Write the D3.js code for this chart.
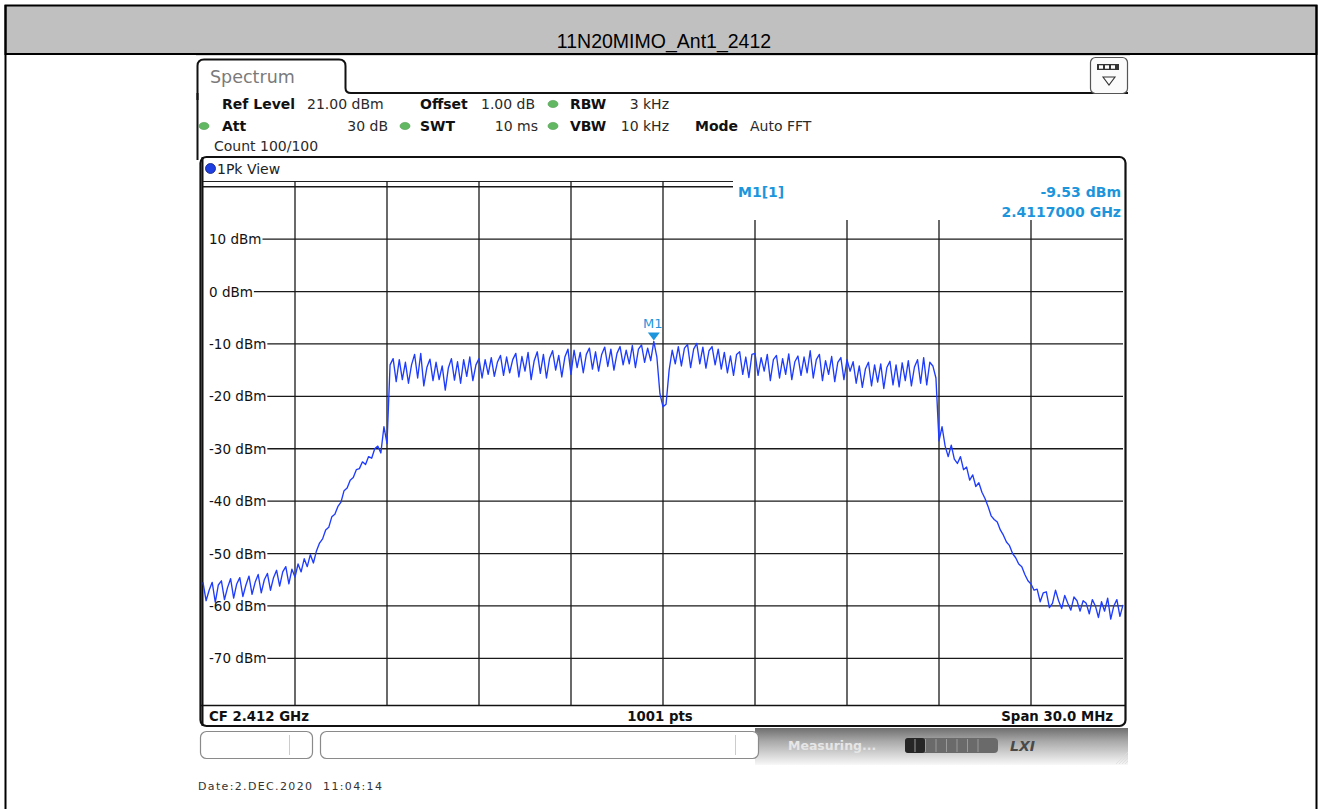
<!DOCTYPE html>
<html>
<head>
<meta charset="utf-8">
<script src="https://cdn.jsdelivr.net/npm/d3@7"></script>
<style>
  html, body { margin: 0; padding: 0; background: #fff; }
  svg { display: block; }
  text { font-family: "DejaVu Sans", sans-serif; }
</style>
</head>
<body>
<svg id="chart" width="1322" height="809"></svg>
<script>
// ---------------- data ----------------
const title = "11N20MIMO_Ant1_2412";
const startGHz = 2.397;          // CF 2.412 GHz, span 30 MHz
const stopGHz = 2.427;
const stepMHz = 0.1;             // trace sample spacing (301 samples)
const refLevel = 21;
const bottomLevel = -79;

// trace values in dBm (index i -> startGHz + i*0.1 MHz)
const traceDbm = [
  -55.5,-59.0,-57.0,-55.5,-59.3,-56.0,-55.2,-58.8,-56.5,-54.8,
  -58.5,-55.8,-54.6,-58.2,-56.0,-54.3,-57.8,-55.5,-54.0,-57.5,
  -55.0,-53.8,-57.0,-54.6,-53.2,-56.2,-53.5,-52.5,-55.8,-53.0,
  -54.5,-52.0,-53.5,-51.0,-52.5,-50.2,-51.8,-49.5,-48.0,-47.2,
  -45.5,-45.0,-43.0,-42.5,-41.0,-40.2,-38.0,-37.5,-36.0,-35.5,
  -34.0,-33.8,-32.5,-33.0,-31.5,-31.8,-30.0,-29.5,-30.8,-25.8,
  -29.0,-14.0,-12.8,-17.2,-13.0,-16.8,-13.5,-17.5,-14.0,-12.0,
  -16.5,-11.8,-18.0,-14.5,-12.9,-17.0,-13.5,-16.8,-14.2,-18.8,
  -14.6,-12.8,-16.9,-13.4,-17.5,-13.0,-16.2,-12.5,-17.0,-14.0,
  -12.8,-16.5,-13.0,-15.8,-12.6,-16.2,-13.5,-12.2,-16.0,-12.5,
  -15.5,-13.0,-11.8,-16.3,-12.4,-15.2,-11.6,-16.8,-13.2,-11.5,
  -15.6,-12.0,-16.5,-12.8,-11.3,-15.0,-12.2,-16.3,-12.5,-11.0,
  -15.8,-11.2,-14.5,-11.6,-15.5,-12.0,-10.8,-14.8,-11.5,-15.2,
  -12.0,-10.6,-14.3,-11.0,-15.0,-11.8,-10.5,-14.0,-11.2,-13.8,
  -10.3,-14.5,-11.0,-10.2,-13.5,-10.8,-13.2,-9.53,-12.5,-19.5,
  -22.0,-21.5,-15.0,-11.2,-13.8,-10.5,-14.2,-10.8,-10.1,-14.5,
  -11.0,-9.9,-13.8,-10.6,-14.6,-11.3,-10.5,-14.0,-11.0,-14.8,
  -11.6,-15.5,-12.3,-16.0,-12.0,-11.5,-15.8,-12.5,-16.4,-12.0,
  -11.8,-16.0,-12.6,-15.2,-12.0,-17.0,-13.0,-12.2,-16.5,-12.8,
  -15.8,-11.9,-16.8,-13.4,-12.3,-16.0,-12.5,-15.5,-11.3,-16.5,
  -13.0,-12.0,-17.0,-13.2,-15.8,-12.4,-17.2,-13.5,-12.6,-16.8,
  -13.0,-15.2,-13.4,-17.5,-14.2,-18.3,-14.8,-13.5,-18.0,-14.0,
  -17.3,-13.8,-18.5,-14.5,-13.3,-17.8,-14.0,-18.2,-13.6,-17.0,
  -13.2,-18.0,-14.4,-13.0,-17.5,-12.6,-17.8,-13.5,-14.2,-16.5,
  -28.5,-25.8,-29.5,-31.5,-29.3,-32.0,-32.8,-31.5,-34.0,-33.5,
  -36.0,-35.0,-37.2,-36.5,-38.3,-39.5,-41.0,-42.8,-43.5,-44.0,
  -45.5,-46.5,-47.8,-48.5,-50.0,-50.8,-52.0,-52.5,-54.0,-55.2,
  -55.8,-57.0,-56.8,-59.2,-57.5,-57.3,-60.3,-59.5,-57.0,-59.0,
  -60.5,-58.0,-59.5,-60.8,-58.3,-59.0,-61.0,-59.0,-59.5,-61.5,
  -58.8,-60.0,-62.2,-59.2,-61.0,-58.5,-62.5,-60.0,-58.8,-62.0,
  -59.8
];

const yGridValues = [20, 10, 0, -10, -20, -30, -40, -50, -60, -70];
const yTickLabels = ["", "10 dBm", "0 dBm", "-10 dBm", "-20 dBm", "-30 dBm", "-40 dBm", "-50 dBm", "-60 dBm", "-70 dBm"];
const xGridValues = [2.400, 2.403, 2.406, 2.409, 2.412, 2.415, 2.418, 2.421, 2.424];

const markerFreq = 2.4117;
const markerLevel = -9.53;
const markerName = "M1";
const markerHeader = "M1[1]";
const markerLevelText = "-9.53 dBm";
const markerFreqText = "2.4117000 GHz";

const footLeft = "CF 2.412 GHz";
const footCenter = "1001 pts";
const footRight = "Span 30.0 MHz";
const dateText = "Date:2.DEC.2020  11:04:14";

// ---------------- drawing ----------------
const svg = d3.select("#chart");
const defs = svg.append("defs");

// page border + title band
svg.append("rect").attr("x", 5.5).attr("y", 5.5).attr("width", 1311).attr("height", 48.5)
  .attr("fill", "#c0c0c0").attr("stroke", "#000").attr("stroke-width", 2);
svg.append("line").attr("x1", 5.5).attr("x2", 5.5).attr("y1", 5).attr("y2", 809).attr("stroke", "#000").attr("stroke-width", 2);
svg.append("line").attr("x1", 1316.5).attr("x2", 1316.5).attr("y1", 5).attr("y2", 809).attr("stroke", "#000").attr("stroke-width", 2);
svg.append("text").attr("x", 664).attr("y", 48).attr("text-anchor", "middle")
  .style("font-family", "'Liberation Sans', Arial, sans-serif").style("font-size", "19.5px").attr("fill", "#000")
  .text(title);

// faint screenshot top edge
svg.append("line").attr("x1", 196).attr("x2", 1130).attr("y1", 55.5).attr("y2", 55.5).attr("stroke", "#d8d8d8");

// Spectrum tab
svg.append("path")
  .attr("d", "M197.5,100 L197.5,66 Q197.5,59.5 204,59.5 L339,59.5 Q345.5,59.5 345.5,66 L345.5,88 Q345.5,93 351,93 L1128,93")
  .attr("fill", "none").attr("stroke", "#111").attr("stroke-width", 2);
svg.append("text").attr("x", 210).attr("y", 82.5).style("font-size", "17.5px").attr("fill", "#7a7a7a").text("Spectrum");

// icon top right
const iconG = svg.append("g");
iconG.append("rect").attr("x", 1090.5).attr("y", 57.5).attr("width", 37).attr("height", 36).attr("rx", 5)
  .attr("fill", "#fbfbfb").attr("stroke", "#555").attr("stroke-width", 1.2);
iconG.append("rect").attr("x", 1097).attr("y", 64).attr("width", 22).attr("height", 6).attr("fill", "#333");
[1099, 1105, 1111].forEach(x => iconG.append("rect").attr("x", x).attr("y", 65.3).attr("width", 4).attr("height", 3.4).attr("fill", "#fff"));
iconG.append("path").attr("d", "M1103,77 L1115,77 L1109,85 Z").attr("fill", "none").attr("stroke", "#333").attr("stroke-width", 1.1);

// left panel edge
svg.append("line").attr("x1", 197.5).attr("x2", 197.5).attr("y1", 93).attr("y2", 160).attr("stroke", "#111").attr("stroke-width", 2);

// settings rows
function dot(cx, cy) {
  svg.append("ellipse").attr("cx", cx).attr("cy", cy).attr("rx", 5).attr("ry", 3.6)
    .attr("fill", "#62b862").attr("stroke", "#4a9a4a").attr("stroke-width", 0.6);
}
function txt(x, y, s, bold, anchor) {
  svg.append("text").attr("x", x).attr("y", y).attr("text-anchor", anchor || "start")
    .style("font-size", "14px").style("font-weight", bold ? "bold" : "normal")
    .attr("fill", bold ? "#111" : "#2a2a2a").text(s);
}
txt(222, 109, "Ref Level", true);
txt(307, 109, "21.00 dBm", false);
txt(420, 109, "Offset", true);
txt(481, 109, "1.00 dB", false);
dot(553, 104);
txt(570, 109, "RBW", true);
txt(669, 109, "3 kHz", false, "end");

dot(204, 126);
txt(222, 131, "Att", true);
txt(388, 131, "30 dB", false, "end");
dot(405, 126);
txt(420, 131, "SWT", true);
txt(538, 131, "10 ms", false, "end");
dot(553, 126);
txt(570, 131, "VBW", true);
txt(669, 131, "10 kHz", false, "end");
txt(695, 131, "Mode", true);
txt(750, 131, "Auto FFT", false);
txt(214, 151, "Count 100/100", false);

// plot frame
svg.append("rect").attr("x", 200.5).attr("y", 157).attr("width", 925).attr("height", 569).attr("rx", 6)
  .attr("fill", "#fff").attr("stroke", "#111").attr("stroke-width", 2.2);
svg.append("circle").attr("cx", 210.5).attr("cy", 168.5).attr("r", 5).attr("fill", "#1f3fe0").attr("stroke", "#0a1a80").attr("stroke-width", 0.8);
svg.append("text").attr("x", 217).attr("y", 173.5).style("font-size", "14px").attr("fill", "#222").text("1Pk View");

// scales
const x = d3.scaleLinear().domain([startGHz, stopGHz]).range([203, 1123]);
const y = d3.scaleLinear().domain([bottomLevel, refLevel]).range([705.5, 181.5]);
const infoLeft = 733;
const infoBottom = 220;

const grid = svg.append("g");
grid.append("line").attr("x1", 202.5).attr("x2", 202.5).attr("y1", 157).attr("y2", 726).attr("stroke", "#111").attr("stroke-width", 2);
grid.append("line").attr("x1", 203).attr("x2", infoLeft).attr("y1", y(refLevel)).attr("y2", y(refLevel)).attr("stroke", "#222").attr("stroke-width", 1.2);
grid.append("line").attr("x1", 201).attr("x2", 1125).attr("y1", y(bottomLevel)).attr("y2", y(bottomLevel)).attr("stroke", "#111").attr("stroke-width", 1.6);

grid.selectAll("line.vx").data(xGridValues).enter().append("line").attr("class", "vx")
  .attr("x1", d => x(d)).attr("x2", d => x(d))
  .attr("y1", d => x(d) > infoLeft ? infoBottom : y(refLevel))
  .attr("y2", y(bottomLevel))
  .attr("stroke", "#1a1a1a").attr("stroke-width", 1.3);

yGridValues.forEach((v, i) => {
  const gy = y(v);
  let lx = 203;
  if (yTickLabels[i]) {
    const t = grid.append("text").attr("x", 209).attr("y", gy + 5).style("font-size", "13.5px").attr("fill", "#111").text(yTickLabels[i]);
    lx = 209 + t.node().getComputedTextLength() + 1;
  }
  grid.append("line").attr("x1", lx).attr("x2", v === 20 ? infoLeft : 1123).attr("y1", gy).attr("y2", gy)
    .attr("stroke", "#1a1a1a").attr("stroke-width", 1.3);
});

// footer texts
svg.append("text").attr("x", 209).attr("y", 720.5).style("font-size", "13.3px").style("font-weight", "bold").attr("fill", "#111").text(footLeft);
svg.append("text").attr("x", 660).attr("y", 720.5).attr("text-anchor", "middle").style("font-size", "13.3px").style("font-weight", "bold").attr("fill", "#111").text(footCenter);
svg.append("text").attr("x", 1113).attr("y", 720.5).attr("text-anchor", "end").style("font-size", "13.3px").style("font-weight", "bold").attr("fill", "#111").text(footRight);

// trace
const pts = traceDbm.map((v, i) => ({ f: startGHz + i * stepMHz / 1000, v }));
svg.append("path").datum(pts)
  .attr("d", d3.line().x(d => x(d.f)).y(d => y(d.v)))
  .attr("fill", "none").attr("stroke", "#1e3cff").attr("stroke-width", 1.35).attr("stroke-linejoin", "round");

// marker
const markerBlue = "#1d95dc";
const mx = x(markerFreq), my = y(markerLevel);
svg.append("path").attr("d", `M${mx - 6},${my - 9} L${mx + 6},${my - 9} L${mx},${my - 1} Z`).attr("fill", markerBlue);
svg.append("text").attr("x", mx - 1).attr("y", my - 13).attr("text-anchor", "middle").style("font-size", "13px").attr("fill", markerBlue).text(markerName);
svg.append("text").attr("x", 738).attr("y", 197).style("font-size", "14px").style("font-weight", "bold").attr("fill", markerBlue).text(markerHeader);
svg.append("text").attr("x", 1121).attr("y", 197).attr("text-anchor", "end").style("font-size", "14px").style("font-weight", "bold").attr("fill", markerBlue).text(markerLevelText);
svg.append("text").attr("x", 1121).attr("y", 217).attr("text-anchor", "end").style("font-size", "14px").style("font-weight", "bold").attr("fill", markerBlue).text(markerFreqText);

// bottom status bar
const grad = defs.append("linearGradient").attr("id", "statusGrad").attr("x1", 0).attr("x2", 0).attr("y1", 0).attr("y2", 1);
grad.append("stop").attr("offset", "0%").attr("stop-color", "#6e6e6e");
grad.append("stop").attr("offset", "35%").attr("stop-color", "#a8a8a8");
grad.append("stop").attr("offset", "100%").attr("stop-color", "#f8f8f8");
svg.append("rect").attr("x", 755).attr("y", 728).attr("width", 373).attr("height", 37).attr("fill", "url(#statusGrad)");
for (let k = 0; k < 5; k++) {
  svg.append("line").attr("x1", 1116 + k * 3).attr("y1", 764).attr("x2", 1128).attr("y2", 752 + k * 3)
    .attr("stroke", "#ddd").attr("stroke-width", 0.8);
}
svg.append("rect").attr("x", 200.5).attr("y", 731.5).attr("width", 112).attr("height", 27).attr("rx", 6)
  .attr("fill", "#fff").attr("stroke", "#8a8a8a").attr("stroke-width", 1.2);
svg.append("line").attr("x1", 289.5).attr("x2", 289.5).attr("y1", 735).attr("y2", 755).attr("stroke", "#ccc");
svg.append("rect").attr("x", 320.5).attr("y", 731.5).attr("width", 438).attr("height", 27).attr("rx", 6)
  .attr("fill", "#fff").attr("stroke", "#8a8a8a").attr("stroke-width", 1.2);
svg.append("line").attr("x1", 735.5).attr("x2", 735.5).attr("y1", 735).attr("y2", 755).attr("stroke", "#ccc");
svg.append("text").attr("x", 788).attr("y", 750).style("font-size", "12.5px").style("font-weight", "bold").attr("fill", "#e6e6e6").text("Measuring...");
svg.append("rect").attr("x", 905).attr("y", 738).attr("width", 93).attr("height", 15).attr("rx", 4).attr("fill", "#6a6a6a");
svg.append("rect").attr("x", 905).attr("y", 738).attr("width", 20).attr("height", 15).attr("rx", 3).attr("fill", "#262626");
for (let k = 0; k < 7; k++) {
  svg.append("line").attr("x1", 915 + k * 10.5).attr("x2", 915 + k * 10.5).attr("y1", 739).attr("y2", 752).attr("stroke", "#9a9a9a").attr("stroke-width", 1);
}
svg.append("text").attr("x", 1010).attr("y", 751).style("font-size", "14px").style("font-weight", "bold").style("font-style", "italic")
  .attr("fill", "#4a4a4a").text("LXI");

// date stamp
svg.append("text").attr("x", 198).attr("y", 790).style("font-size", "11px").style("letter-spacing", "1.35px")
  .style("white-space", "pre").attr("xml:space", "preserve").attr("fill", "#333").text(dateText);
</script>
</body>
</html>
